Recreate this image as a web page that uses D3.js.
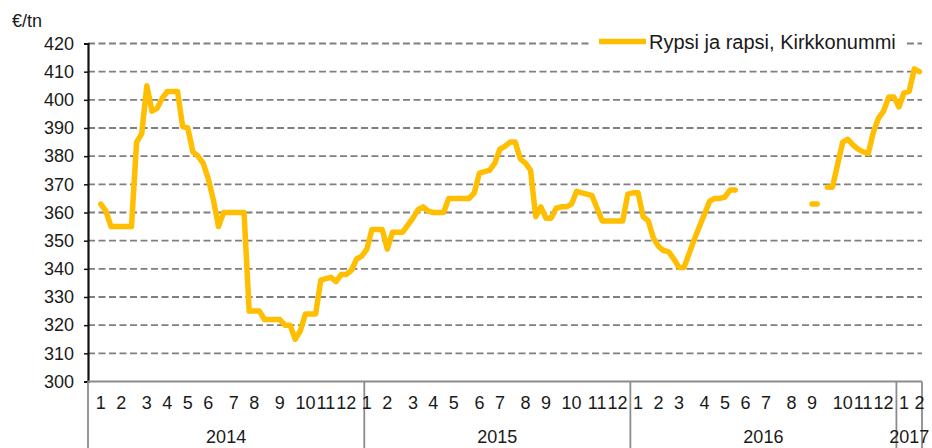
<!DOCTYPE html>
<html>
<head>
<meta charset="utf-8">
<script src="https://cdn.jsdelivr.net/npm/d3@7/dist/d3.min.js"></script>
<style>
  body { margin: 0; background: #fff; }
  svg { display: block; font-family: "Liberation Sans", Arial, sans-serif; }
</style>
</head>
<body>
<svg id="chart" width="932" height="448"></svg>
<script>
// weekly prices, one array per year (null = no quote)
const weeks2014 = [null,null,363,360.5,355,355,355,355,355,385, 388,405,396,397,400.5,403,403,403,390.5,390,
  381.5,380,377.5,372,364.5,355,360,360,360,360, 360,325,325,325,322,322,322,322,320,320,
  315,318,324,324,324,336,336.5,337,335.5,338, 338,339.5,343.5,344.5];
const weeks2015 = [347,354,354,354,347,353,353,353,355.5,358, 361,362,360.5,360,360,360,365,365,365,365,
  365,367,374,374.5,375,377.5,382.5,383.5,385,385, 379,377.5,375,358.5,362,358,358,361.5,362,362,
  363,367.5,367,366.5,366,361.5,357,357,357,357, 357,366.5];
const weeks2016 = [367,367,358.5,357,351,348,346.5,346,343.5,340.5, 340.5,345.5,350.5,355,359.5,364,365,365,365.5,368,
  368,null,null,null,null,null,null,null,null,null, null,null,null,null,null,363,363,null,369,369,
  377,385,386,384,382.5,381.5,381,388.5,393.5,396, 401,401];
const weeks2017 = [397.5,402.5,403,411,410];

const years = ["2014", "2015", "2016", "2017"];
const yearWeeks = [weeks2014, weeks2015, weeks2016, weeks2017];
// week (within year) where each month label sits
const monthWeeks = [
  [2,6,11,15,19,23,28,32,37,42,46,50],
  [0,4,9,13,17,22,26,31,35,40,45,49],
  [1,5,9,14,18,22,26,31,35,41,45,49],
  [1,4]
];
const yTicks = [300,310,320,330,340,350,360,370,380,390,400,410,420];
const seriesName = "Rypsi ja rapsi, Kirkkonummi";
const unit = "€/tn";

const values = [].concat(...yearWeeks);

let svg = d3.select("#chart");
let plotL = 88, plotR = 922, plotT = 43.5, plotB = 381.5;
let txtCol = "#1a1a1a", fs = "18px";

let x = d3.scaleBand().domain(d3.range(values.length)).range([plotL, plotR]).padding(0);
let y = d3.scaleLinear().domain([300, 420]).range([plotB, plotT]);
let xc = function(i){ return x(i) + x.bandwidth() / 2; };

// gridlines
svg.append("g")
  .selectAll("line")
  .data(yTicks.filter(function(d){ return d > 300; }))
  .enter().append("line")
    .attr("x1", plotL).attr("x2", plotR)
    .attr("y1", function(d){ return y(d); })
    .attr("y2", function(d){ return y(d); })
    .attr("stroke", "#7f7f7f")
    .attr("stroke-width", 1.8)
    .attr("stroke-dasharray", "7,3.5");

// y axis
let yAxis = svg.append("g")
  .attr("transform", "translate(" + plotL + ",0)")
  .call(d3.axisLeft(y).tickValues(yTicks).tickSize(4).tickPadding(10));
yAxis.select(".domain").attr("stroke", "#111").attr("stroke-width", 2.2);
yAxis.selectAll(".tick line").attr("stroke", "#111").attr("stroke-width", 1.5);
yAxis.selectAll("text")
  .attr("font-size", fs)
  .attr("fill", txtCol)
  .attr("font-family", "Liberation Sans, Arial, sans-serif");

svg.append("text")
  .attr("x", 12).attr("y", 26.5)
  .attr("font-size", fs).attr("fill", txtCol)
  .text(unit);

// category axis frame
let axisCol = "#8c8c8c";
svg.append("line")
  .attr("x1", plotL).attr("x2", plotR)
  .attr("y1", plotB).attr("y2", plotB)
  .attr("stroke", axisCol).attr("stroke-width", 1.8);

let start = 0;
let groups = years.map(function(yr, k){
  let g = { year: yr, start: start, n: yearWeeks[k].length, months: monthWeeks[k] };
  start += g.n;
  return g;
});

let gx = svg.append("g");
let sepX = [plotL].concat(groups.map(function(g){ return x(g.start + g.n - 1) + x.bandwidth(); }));
gx.selectAll("line.sep")
  .data(sepX)
  .enter().append("line")
    .attr("x1", function(d){ return d; }).attr("x2", function(d){ return d; })
    .attr("y1", plotB).attr("y2", 448)
    .attr("stroke", axisCol).attr("stroke-width", 1.8);

groups.forEach(function(g){
  gx.selectAll(null)
    .data(g.months)
    .enter().append("text")
      .attr("x", function(d){ return xc(g.start + d); })
      .attr("y", 409)
      .attr("text-anchor", "middle")
      .attr("font-size", fs).attr("fill", txtCol)
      .text(function(d, i){ return i + 1; });
  gx.append("text")
    .attr("x", (x(g.start) + x(g.start + g.n - 1) + x.bandwidth()) / 2)
    .attr("y", 443)
    .attr("text-anchor", "middle")
    .attr("font-size", fs).attr("fill", txtCol)
    .text(g.year);
});

// legend box (hides gridline underneath)
let lg = svg.append("g");
lg.append("rect")
  .attr("x", 592).attr("y", 28).attr("width", 313).attr("height", 27)
  .attr("fill", "#fff");
lg.append("line")
  .attr("x1", 599).attr("x2", 646)
  .attr("y1", 41.5).attr("y2", 41.5)
  .attr("stroke", "#FFBE00").attr("stroke-width", 5.5);
lg.append("text")
  .attr("x", 649).attr("y", 48.5)
  .attr("font-size", "20px").attr("fill", txtCol)
  .text(seriesName);

// price line
let line = d3.line()
  .defined(function(d){ return d != null; })
  .x(function(d, i){ return xc(i); })
  .y(function(d){ return y(d); });

svg.append("path")
  .datum(values)
  .attr("d", line)
  .attr("fill", "none")
  .attr("stroke", "#FFBE00")
  .attr("stroke-width", 5.5)
  .attr("stroke-linejoin", "round")
  .attr("stroke-linecap", "round");
</script>
</body>
</html>
